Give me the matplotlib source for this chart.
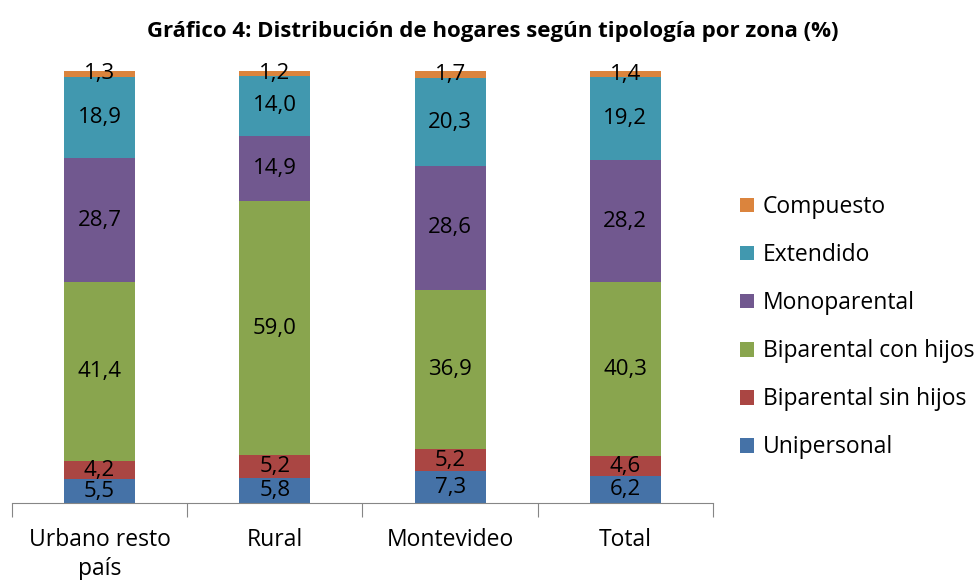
import matplotlib
matplotlib.use("Agg")
import matplotlib.pyplot as plt
import numpy as np

plt.rcParams['font.family'] = ['Open Sans', 'DejaVu Sans']

categories = ["Urbano resto\npaís", "Rural", "Montevideo", "Total"]
series_names = ["Unipersonal", "Biparental sin hijos", "Biparental con hijos",
                "Monoparental", "Extendido", "Compuesto"]
unipersonal = [5.5, 5.8, 7.3, 6.2]
biparental_sin = [4.2, 5.2, 5.2, 4.6]
biparental_con = [41.4, 59.0, 36.9, 40.3]
monoparental = [28.7, 14.9, 28.6, 28.2]
extendido = [18.9, 14.0, 20.3, 19.2]
compuesto = [1.3, 1.2, 1.7, 1.4]
colors = ["#4572A7", "#AA4643", "#89A54E", "#71588F", "#4198AF", "#DB843D"]

values = [unipersonal, biparental_sin, biparental_con, monoparental, extendido, compuesto]

fig = plt.figure(figsize=(9.79, 5.8), dpi=100)
ax = fig.add_axes([12/979, 77/580, (713-12)/979, (503-71)/580])

x = np.arange(len(categories))
bottom = np.zeros(len(categories))
handles = []
for name, vals, c in zip(series_names, values, colors):
    vals = np.array(vals)
    b = ax.bar(x, vals, 0.405, bottom=bottom, color=c, edgecolor='none', label=name)
    handles.append(b)
    for xi, v, bt in zip(x, vals, bottom):
        ax.text(xi, bt + v / 2, f"{v:.1f}".replace('.', ','), ha='center', va='center',
                fontsize=16, color='black')
    bottom += vals

ax.set_xlim(-0.5, len(categories) - 0.5)
ax.set_ylim(0, 100)
for s in ['top', 'right', 'left']:
    ax.spines[s].set_visible(False)
ax.spines['bottom'].set_color('#868686')
ax.set_yticks([])
ax.set_xticks(np.arange(-0.5, len(categories), 1.0))
ax.set_xticklabels([])
ax.tick_params(axis='x', length=10, color='#868686', direction='out')
for xi, cat in zip(x, categories):
    ax.text(xi, -5.9, cat, ha='center', va='top', fontsize=16.5, linespacing=1.25,
            transform=ax.transData)

fig.text(493/979, 1 - 31/580, "Gráfico 4: Distribución de hogares según tipología por zona (%)",
         ha='center', va='center', fontsize=16, fontweight='bold')

leg = fig.legend(handles[::-1], series_names[::-1], loc='upper left',
                 bbox_to_anchor=(731/979, 1 - 186/580), frameon=False, fontsize=16.5,
                 handlelength=0.6, handleheight=0.6, handletextpad=0.4,
                 labelspacing=1.05, borderaxespad=0)

fig.savefig("out.png", dpi=100)
